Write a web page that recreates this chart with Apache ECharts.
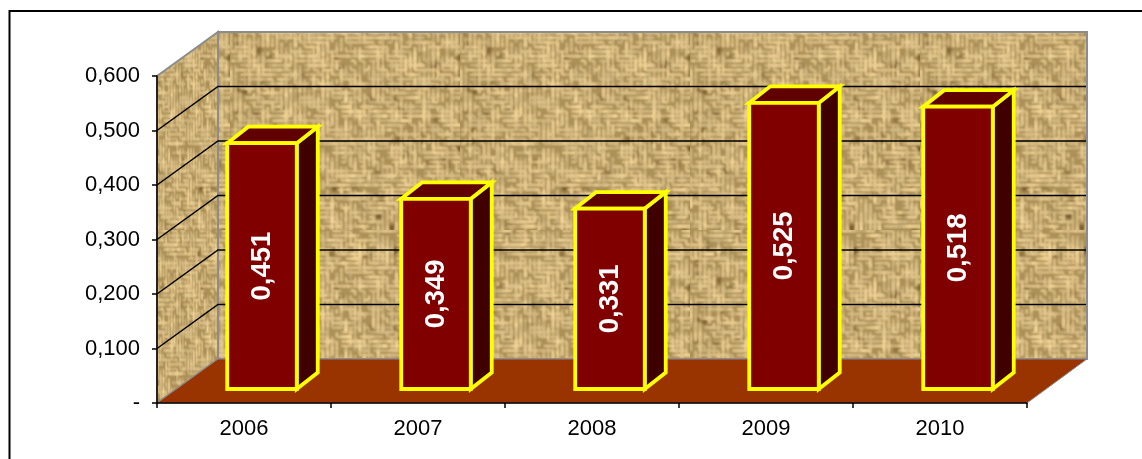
<!DOCTYPE html>
<html><head><meta charset="utf-8">
<style>html,body{margin:0;padding:0;background:#fff}#c{width:1142px;height:459px}</style>
<script src="https://cdn.jsdelivr.net/npm/echarts@6/dist/echarts.min.js"></script>
</head><body><div id="c"></div>
<script>
const categories = ['2006','2007','2008','2009','2010'];
const values = [0.451,0.349,0.331,0.525,0.518];
const labels = ['0,451','0,349','0,331','0,525','0,518'];
const yGrid = [0.1,0.2,0.3,0.4,0.5];

function hash(i,j){const s=Math.sin(i*127.1+j*311.7)*43758.5453;return s-Math.floor(s);}
function weaveTile(size){
  const c=document.createElement('canvas');c.width=c.height=size;
  const g=c.getContext('2d');
  g.fillStyle='#ab9058';g.fillRect(0,0,size,size);
  const cell=4.6,n=Math.floor(size/cell);
  g.filter='blur(1.6px)';
  for(let i=0;i<90;i++){
    g.fillStyle=hash(i,91)>0.5?'rgba(95,66,22,0.7)':'rgba(120,90,40,0.55)';
    g.fillRect(hash(i,1)*size,hash(i,2)*size,3+hash(i,3)*5,3+hash(i,4)*4);
  }
  g.filter='blur(0.95px)';
  for(let i=0;i<n;i++)for(let j=0;j<n;j++){
    const b=hash(i,j);
    if(b<0.14)continue;
    const horiz=hash(Math.floor((i+j%2)/2),Math.floor((j+i%2)/2))+0.5*hash(i+5,j+9)>0.75;
    const len=cell*(1+Math.floor(hash(i+31,j+17)*3));
    const l=205+Math.floor(hash(i+3,j+8)*48);
    g.strokeStyle='rgba('+l+','+Math.floor(l*0.88)+','+Math.floor(l*0.63)+',0.95)';
    g.lineWidth=2.1;
    const x=i*cell+1,y=j*cell+1;
    g.beginPath();
    if(horiz){g.moveTo(x,y);g.lineTo(x+len,y);}else{g.moveTo(x,y);g.lineTo(x,y+len);}
    g.stroke();
  }
  return c;
}
function sideTile(src){
  const c=document.createElement('canvas');c.width=Math.floor(src.width*0.6);c.height=src.height;
  c.getContext('2d').drawImage(src,0,0,c.width,c.height);
  return c;
}
const tile=weaveTile(230), tileSide=sideTile(tile);

const DX=61, DY=-44, DXR=60;          // depth of the 3D floor
const BDX=21, BDY=-16.5;              // depth of a bar
const FX=18, FY=-14, BW=69.5;         // bar front offset and width

function wallsItem(params,api){
  const s=params.coordSys, l=s.x, r=s.x+s.width, t=s.y, b=s.y+s.height;
  const gray={stroke:'#8c8c8c',lineWidth:2};
  return {type:'group',silent:true,children:[
    {type:'polygon',shape:{points:[[l+DX,t+DY],[r+DXR,t+DY],[r+DXR,b+DY],[l+DX,b+DY]]},
      style:Object.assign({fill:{image:tile,repeat:'repeat'}},gray)},
    {type:'polygon',shape:{points:[[l,t],[l+DX,t+DY],[l+DX,b+DY],[l,b]]},
      style:Object.assign({fill:{image:tileSide,repeat:'repeat'}},gray)},
    {type:'polygon',shape:{points:[[l,b],[l+DX,b+DY],[r+DXR,b+DY],[r,b]]},
      style:{fill:'#993300',stroke:'#8c8c8c',lineWidth:1}}
  ]};
}
function gridItem(params,api){
  const s=params.coordSys, l=s.x, r=s.x+s.width;
  const y=api.coord([0,api.value(0)])[1];
  return {type:'polyline',silent:true,shape:{points:[[l,y],[l+DX,y+DY],[r+DXR-1,y+DY]]},
    style:{stroke:'#000',lineWidth:1.5,fill:'none'}};
}
function barItem(params,api){
  const i=api.value(0), v=api.value(1);
  const cx=api.coord([i,0])[0]+FX, base=api.coord([i,0])[1]+FY, top=api.coord([i,v])[1]+FY;
  const x0=cx-BW/2, x1=cx+BW/2;
  const ls={stroke:'#ffff00',lineWidth:3.8,lineJoin:'miter'};
  return {type:'group',silent:true,children:[
    {type:'polygon',shape:{points:[[x1,base],[x1+BDX,base+BDY],[x1+BDX,top+BDY],[x1,top]]},
      style:Object.assign({fill:'#400000'},ls)},
    {type:'polygon',shape:{points:[[x0,top],[x0+BDX,top+BDY],[x1+BDX,top+BDY],[x1,top]]},
      style:Object.assign({fill:'#600000'},ls)},
    {type:'polygon',shape:{points:[[x0,base],[x0,top],[x1,top],[x1,base]]},
      style:Object.assign({fill:'#800000'},ls)},
    {type:'text',x:cx,y:(base+top)/2,rotation:Math.PI/2,
      style:{text:labels[i],fill:'#fff',font:'bold 27.5px "Liberation Sans"',align:'center',verticalAlign:'middle'}}
  ]};
}
const chart=echarts.init(document.getElementById('c'),null,{renderer:'canvas'});
chart.setOption({
  animation:false,backgroundColor:'#fff',
  grid:{left:157,top:76,width:870,height:327,containLabel:false},
  xAxis:{type:'category',data:categories,z:10,
    axisLine:{lineStyle:{color:'#000',width:1.5}},
    axisTick:{show:true,length:5,lineStyle:{color:'#000',width:1.5}},
    axisLabel:{color:'#000',fontFamily:'Liberation Sans',fontSize:22,margin:15},
    splitLine:{show:false}},
  yAxis:{type:'value',min:0,max:0.6,interval:0.1,z:10,
    axisLine:{show:true,lineStyle:{color:'#000',width:1.5}},
    axisTick:{show:true,length:5,lineStyle:{color:'#000',width:1.5}},
    axisLabel:{color:'#000',fontFamily:'Liberation Sans',fontSize:22,margin:17,
      formatter:v=>v===0?'-':v.toFixed(3).replace('.',',')},
    splitLine:{show:false}},
  graphic:[{type:'rect',silent:true,z:20,shape:{x:9.5,y:11,width:1200,height:600},
    style:{fill:'none',stroke:'#000',lineWidth:2}}],
  series:[
    {type:'custom',renderItem:wallsItem,data:[0],clip:false,z:2,encode:{x:0,y:0}},
    {type:'custom',renderItem:gridItem,data:yGrid.map(v=>[v]),clip:false,z:3,encode:{y:0}},
    {type:'custom',renderItem:barItem,data:values.map((v,i)=>[i,v]),clip:false,z:4,encode:{x:0,y:1}}
  ]
});
</script></body></html>
